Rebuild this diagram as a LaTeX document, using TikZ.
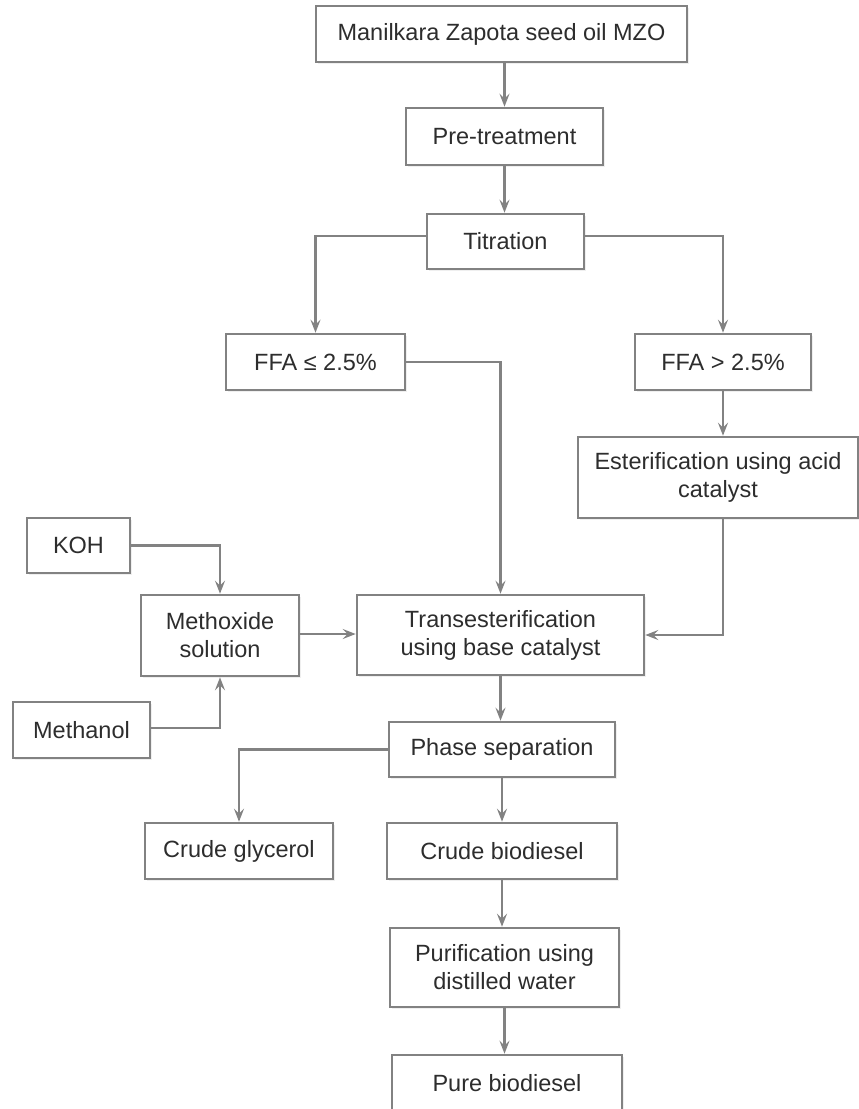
\documentclass[tikz,border=0pt]{standalone}
\usepackage{fontspec}
\setmainfont{Liberation Sans}
\usetikzlibrary{arrows.meta,shadows}
\definecolor{lin}{RGB}{130,130,130}
\definecolor{txt}{RGB}{45,45,45}
\tikzset{
  boxst/.style={draw=lin, line width=2.6pt, fill=white, inner sep=0pt, align=center,
    text=txt, font=\fontsize{23.5}{28}\selectfont,
    drop shadow={opacity=0.12, shadow xshift=1.5pt, shadow yshift=-2pt}},
  conn/.style={draw=lin, line width=2.4pt, -{Stealth[length=13pt,width=10pt,inset=5pt]}}
}
\newcommand{\bx}[6]{\node[boxst, minimum width=#4pt-#2pt, minimum height=#5pt-#3pt] (#1) at ({(#2+#4)/2},{(#3+#5)/2}) {#6};}
\begin{document}
\begin{tikzpicture}[x=1pt,y=-1pt]
\useasboundingbox (0,0) rectangle (859,1109);
\clip (0,0) rectangle (859,1109);
\fill[white] (0,0) rectangle (859,1109);
\bx{mzo}{316}{6}{687}{62}{Manilkara Zapota seed oil MZO}
\bx{pre}{406}{108}{603}{165}{Pre-treatment}
\bx{tit}{427}{214}{584}{269}{Titration}
\bx{ffa1}{226}{334}{405}{390}{FFA ≤ 2.5\%}
\bx{ffa2}{635}{334}{811}{390}{FFA > 2.5\%}
\bx{est}{578}{437}{858}{518}{Esterification using acid\\catalyst}
\bx{koh}{27}{518}{130}{573}{KOH}
\bx{meth}{141}{595}{299}{676}{Methoxide\\solution}
\bx{trans}{357}{595}{644}{675}{Transesterification\\using base catalyst}
\bx{methanol}{13}{702}{150}{758}{Methanol}
\bx{phase}{389}{722}{615}{777}{Phase separation}
\bx{glyc}{145}{823}{333}{879}{Crude glycerol}
\bx{crude}{387}{823}{617}{879}{Crude biodiesel}
\bx{pur}{390}{928}{619}{1007}{Purification using\\distilled water}
\bx{pure}{392}{1055}{622}{1112}{Pure biodiesel}

\draw[conn] (mzo.south -| pre.north) -- (pre.north);
\draw[conn] (pre.south) -- (pre.south |- tit.north);
\draw[conn] ([yshift=5.5pt]tit.west) -| (ffa1.north);
\draw[conn] ([yshift=5.5pt]tit.east) -| (ffa2.north);
\draw[conn] (ffa1.east) -| (trans.north);
\draw[conn] (ffa2.south) -- (ffa2.south |- est.north);
\draw[conn] (ffa2.south |- est.south) |- (trans.east);
\draw[conn] (koh.east) -| (meth.north);
\draw[conn] ([yshift=2pt]methanol.east) -| (meth.south);
\draw[conn] ([yshift=1.5pt]meth.east) -- ([yshift=1.5pt]meth.east -| trans.west);
\draw[conn] (trans.south) -- (trans.south |- phase.north);
\draw[conn] (phase.west) -| (glyc.north);
\draw[conn] (phase.south) -- (phase.south |- crude.north);
\draw[conn] (crude.south) -- (crude.south |- pur.north);
\draw[conn] (pur.south) -- (pur.south |- pure.north);
\end{tikzpicture}
\end{document}
